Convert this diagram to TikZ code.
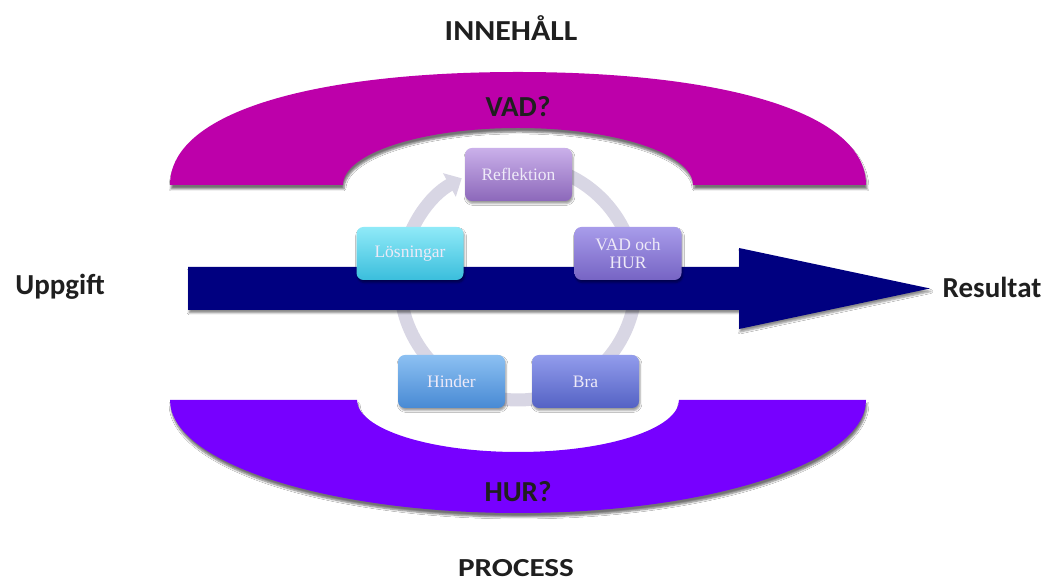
\documentclass[tikz,border=0pt]{standalone}
\usepackage{fontspec}
\setmainfont{Carlito}
\newfontfamily\widefont[FakeStretch=1.1]{Carlito}
\newfontfamily\widerfont[FakeStretch=1.2]{Carlito}
\newfontfamily\boxfont{Liberation Serif}
\usetikzlibrary{arrows.meta,shadows.blur}
\definecolor{vadcol}{RGB}{189,0,170}
\definecolor{hurcol}{RGB}{119,0,255}
\definecolor{navycol}{RGB}{0,0,128}
\definecolor{ringcol}{RGB}{216,214,228}
\definecolor{boxtext}{RGB}{238,234,248}
\begin{document}
\begin{tikzpicture}[x=1pt,y=1pt,
  bandshadow/.style={blur shadow={shadow xshift=1pt,shadow yshift=-4pt,shadow blur steps=6,shadow opacity=55}},
  lbl/.style={font=\fontsize{29}{31}\selectfont\bfseries, text=black!88, inner sep=0pt},
  widelbl/.style={font=\widefont\fontsize{29}{31}\selectfont\bfseries, text=black!88, inner sep=0pt},
  proclbl/.style={font=\widerfont\fontsize{26}{28}\selectfont\bfseries, text=black!88, inner sep=0pt},
  cbox/.style={rounded corners=7pt, minimum width=107pt, minimum height=53pt, inner sep=0pt,
    align=center, font=\boxfont\fontsize{17.5}{18}\selectfont, text=boxtext,
    blur shadow={shadow xshift=1pt,shadow yshift=-2.5pt,shadow blur steps=4,shadow opacity=40}},
  ringline/.style={draw=ringcol, line width=13pt}
]
\useasboundingbox (0,0) rectangle (1050,583);
\fill[white] (0,0) rectangle (1050,583);

% VAD band
\fill[vadcol, bandshadow] (170,398) .. controls (170,473) and (320,511) .. (518,511)
  .. controls (716,511) and (866,473) .. (866,398) -- (693,398)
  arc[start angle=0, end angle=180, x radius=175, y radius=57] -- cycle;

% HUR band
\fill[hurcol, bandshadow] (170,183) -- (357,183)
  arc[start angle=180, end angle=360, x radius=161, y radius=52] -- (866,183)
  arc[start angle=0, end angle=-180, x radius=348, y radius=113] -- cycle;

% cycle ring
\coordinate (ringc) at (518,301);
\draw[ringline, -{Triangle[width=26pt,length=14pt]}] ([shift={(80:118)}]ringc)
  arc[start angle=80, end angle=-241.5, radius=118];

% main arrow
\fill[navycol, blur shadow={shadow xshift=1pt,shadow yshift=-3pt,shadow blur steps=5,shadow opacity=45}]
  (188,273) -- (739,273) -- (739,254) -- (930,294.5) -- (739,335) -- (739,316) -- (188,316) -- cycle;

% boxes
\node[cbox, top color={rgb,255:red,202;green,176;blue,234}, bottom color={rgb,255:red,140;green,104;blue,186}] (refl) at (518.5,408.5) {Reflektion};
\node[cbox, top color={rgb,255:red,168;green,156;blue,234}, bottom color={rgb,255:red,118;green,100;blue,196}] (vadhur) at (628,329.5) {VAD och\\HUR};
\node[cbox, top color={rgb,255:red,146;green,156;blue,236}, bottom color={rgb,255:red,84;green,98;blue,196}] (bra) at (585.5,201.5) {Bra};
\node[cbox, top color={rgb,255:red,140;green,192;blue,242}, bottom color={rgb,255:red,72;green,138;blue,212}] (hinder) at (451.5,201.5) {Hinder};
\node[cbox, top color={rgb,255:red,144;green,234;blue,248}, bottom color={rgb,255:red,58;green,190;blue,220}] (losn) at (410,329.5) {Lösningar};

% labels
\node[widelbl] (inneh) at (511,555) {INNEHÅLL};
\node[proclbl] (process) at (516,15) {PROCESS};
\node[lbl] (vad) at (518,476) {VAD?};
\node[lbl] (hur) at (518,91) {HUR?};
\node[lbl] (uppg) at (60,296) {Uppgift};
\node[lbl] (res) at (992,296) {Resultat};
\end{tikzpicture}
\end{document}
